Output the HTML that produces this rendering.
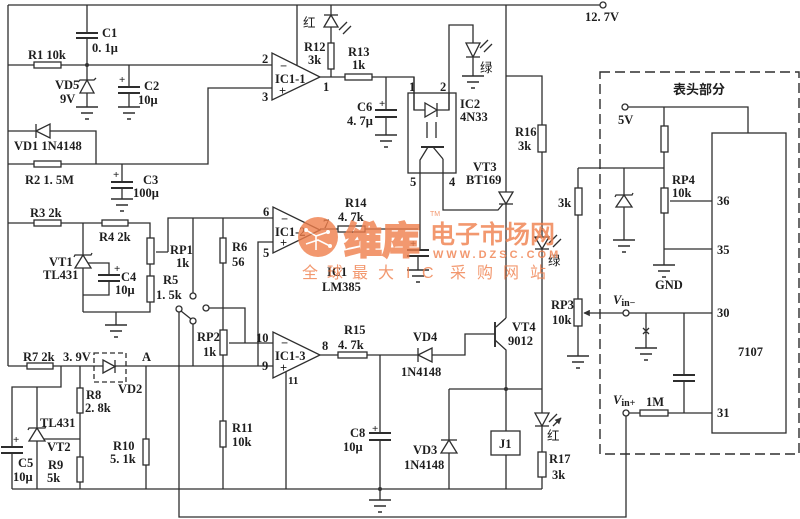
<!DOCTYPE html>
<html><head><meta charset="utf-8"><style>
html,body{margin:0;padding:0;background:#fff;}
svg{display:block;}
text{font-family:"Liberation Serif","Noto Serif CJK SC",serif;font-size:12.5px;fill:#1e1e1e;font-weight:bold;}
.c{font-family:"Liberation Sans","Noto Sans CJK SC",sans-serif;font-weight:normal;}
.s{font-size:11px;}
.w{fill:#f07f4c;font-family:"Liberation Sans","Noto Sans CJK SC",sans-serif;}
</style></head><body>
<svg width="800" height="519" viewBox="0 0 800 519" xmlns="http://www.w3.org/2000/svg">
<defs>
<marker id="ah" viewBox="0 0 10 10" refX="9" refY="5" markerWidth="5" markerHeight="5" orient="auto"><path d="M0,0 L10,5 L0,10z" fill="#333"/></marker>
</defs>
<g fill="none" stroke="#2e2e2e" stroke-width="1.3">
<path d="M8,5 H600 M8,5 V366
M87,5 V33 M87,38 V65
M8,65 H34 M61,65 H272
M87,65 V80 M87,93 V107
M129,65 V87 M129,93 V107
M272,88 H208 V164 H61 M34,164 H8
M8,131 H36 M50,131 H96 V164
M122,164 V182 M122,188 V199
M297,5 V65
M331,5 V15 M331,27 V43 M331,69 V77
M320,77 H345 M372,77 H414 V110 H425 M437,110 H449 V25 H473 V43 M473,57 V76
M386,77 V110 M386,117 V135
M428,147 L420,160 V250
M443,159 V210 H498 L503,204
M506,5 V192 M506,204 V318
M506,76 H542 V125 M542,152 V237 M542,249 V413 M542,426 V452 M542,477 V489
M495,340 L506,350 V431 M506,455 V489
M495,334 H465 V355 H432 M418,355 H367 M338,355 H320
M380,355 V433 M380,440 V500
M449,389 H542 M449,389 V440 M449,453 V489
M12,489 H542
M179,312 V517 H626 V416
M8,366 H27 M53,366 H103 M115,366 H273
M61,366 V387 H12 V447 M12,453 V489
M37,387 V428 M37,441 V489 M42,439 H80
M80,366 V388 M80,413 V457 M80,482 V489
M146,366 V439 M146,465 V489
M223,355 V421 M223,447 V489
M8,223 H34 M61,223 H102 M128,223 H150 V238 M150,264 V276 M150,302 V312 H83
M83,223 V255 M83,268 V312 M88,263 H109 V275 M109,281 V295 H83
M116,312 V325
M168,252 V218 H273
M193,218 V293
M223,218 V238 M223,263 V330
M181,311 L191,319 M193,324 V366 M209,308 H245 V343
M273,242 H258 V366
M320,229 H338 M365,229 H418 M418,256 V270
M286,372 V489
M628,107 H748 V133
M664,107 V126 M664,152 V188 M664,213 V265 M664,249 H712
M578,168 H664 M578,168 V188 M578,215 V299 M578,326 V356
M624,168 V195 M624,207 V240
M629,313 H712 M646,313 V348
M684,313 V375 M684,381 V413
M629,413 H640 M668,413 H712
M643,328 L649,334 M649,328 L643,334"/>
<path d="M427,122 V138 M436,122 V138 M433,147 L443,159 M506,318 L496,327 M168,252 H156 M245,343 H229 M273,343 H245 M712,201 H670 M623,313 H584" marker-end="url(#ah)"/>
<path d="M339,30 L347,22 M343,34 L351,26 M480,48 L488,40 M484,52 L492,44 M549,243 L557,235 M553,247 L561,239 M549,422 L557,414 M553,426 L561,418" marker-end="url(#ah)"/>
<path stroke-width="1.9" d="M421,147 H444 M495,322 V347
M76,33 H98 M76,38 H98 M118,87 H140 M118,93 H140 M111,182 H133 M111,188 H133
M375,110 H397 M375,117 H397 M407,250 H429 M407,256 H429 M98,275 H120 M98,281 H120
M1,447 H23 M1,453 H23 M369,433 H391 M369,440 H391 M673,375 H695 M673,381 H695"/>
<path stroke-width="1.6" d="
M76,107 H98 M81,113 H93 M85,119 H89
M118,107 H140 M123,113 H135 M127,119 H131
M111,199 H133 M116,205 H128 M120,211 H124
M375,135 H397 M380,141 H392 M384,147 H388
M462,76 H484 M467,82 H479 M471,88 H475
M407,270 H429 M412,276 H424 M416,282 H420
M105,325 H127 M110,331 H122 M114,337 H118
M369,500 H391 M374,506 H386 M378,512 H382
M653,265 H675 M658,271 H670 M662,277 H666
M613,240 H635 M618,246 H630 M622,252 H626
M567,356 H589 M572,362 H584 M576,368 H580
M635,348 H657 M640,354 H652 M644,360 H648"/>
<g fill="#fff">
<rect x="34" y="62" width="27" height="6"/><rect x="34" y="161" width="27" height="6"/>
<rect x="34" y="220" width="27" height="6"/><rect x="102" y="220" width="26" height="6"/>
<rect x="147" y="238" width="7" height="26"/><rect x="147" y="276" width="7" height="26"/>
<rect x="220" y="238" width="6" height="25"/><rect x="220" y="330" width="7" height="25"/>
<rect x="27" y="363" width="26" height="6"/><rect x="77" y="388" width="6" height="25"/>
<rect x="77" y="457" width="6" height="25"/><rect x="143" y="439" width="6" height="26"/>
<rect x="220" y="421" width="6" height="26"/><rect x="328" y="43" width="6" height="26"/>
<rect x="345" y="74" width="27" height="6"/><rect x="338" y="226" width="27" height="6"/>
<rect x="338" y="352" width="29" height="6"/><rect x="538" y="125" width="8" height="27"/>
<rect x="538" y="452" width="8" height="25"/><rect x="661" y="126" width="7" height="26"/>
<rect x="661" y="188" width="7" height="25"/><rect x="575" y="188" width="7" height="27"/>
<rect x="574" y="299" width="8" height="27"/><rect x="640" y="410" width="28" height="6"/>
<polygon points="87,80 80,93 94,93"/><path d="M78,82 L80,80 H94 L96,78"/>
<polygon points="36,131 50,124 50,138"/><path d="M36,124 V138"/>
<polygon points="331,15 324,27 338,27"/><path d="M324,15 H338"/>
<polygon points="425,103 425,117 437,110"/><path d="M437,103 V117"/>
<polygon points="466,43 480,43 473,57"/><path d="M466,57 H480"/>
<polygon points="499,192 513,192 506,204"/><path d="M499,204 H513"/>
<polygon points="535,237 549,237 542,249"/><path d="M535,249 H549"/>
<polygon points="535,413 549,413 542,426"/><path d="M535,426 H549"/>
<polygon points="418,355 432,348 432,362"/><path d="M418,348 V362"/>
<polygon points="449,440 441,453 457,453"/><path d="M441,440 H457"/>
<polygon points="103,360 103,373 115,366.5"/><path d="M115,360 V373"/>
<polygon points="83,255 75,268 91,268"/><path d="M74,257 L75,255 H91 L92,253"/>
<polygon points="37,428 29,441 45,441"/><path d="M28,430 L29,428 H45 L46,426"/>
<polygon points="624,195 616,207 632,207"/><path d="M615,197 L616,195 H632 L633,193"/>
<polygon points="272,53 272,100 320,77"/>
<polygon points="273,207 273,253 320,230"/>
<polygon points="273,332 273,378 320,355"/>
<rect x="491" y="431" width="29" height="24"/>
<rect x="712" y="133" width="74" height="300"/>
<circle cx="603" cy="5" r="3"/><circle cx="625" cy="107" r="3"/>
<circle cx="626" cy="313" r="3"/><circle cx="626" cy="413" r="3"/>
<circle cx="193" cy="296" r="3"/><circle cx="179" cy="309" r="3"/>
<circle cx="193" cy="321" r="3"/><circle cx="206" cy="308" r="3"/>
</g>
<rect x="408" y="93" width="48" height="80"/>
<path d="M414,77 V110 M449,93 V110"/>
<rect x="94" y="353" width="32" height="29" stroke-dasharray="5,3"/>
<rect x="600" y="72" width="199" height="382" stroke-dasharray="10,5" stroke-width="1.4"/>
</g>
<g fill="#333"><circle cx="87" cy="65" r="2"/><circle cx="380" cy="489" r="2"/><circle cx="506" cy="389" r="2"/></g>
<text x="585" y="21">12. 7V</text>
<text x="102" y="37">C1</text><text x="92" y="52">0. 1μ</text>
<text x="28" y="59">R1 10k</text>
<text x="55" y="89">VD5</text><text x="60" y="103">9V</text>
<text x="144" y="90">C2</text><text x="138" y="104">10μ</text>
<text x="14" y="150">VD1 1N4148</text>
<text x="25" y="184">R2 1. 5M</text>
<text x="143" y="184">C3</text><text x="133" y="197">100μ</text>
<text class="s" x="119" y="83">+</text><text class="s" x="113" y="178">+</text>
<text class="s" x="379" y="107">+</text><text class="s" x="410" y="247">+</text>
<text class="s" x="114" y="272">+</text><text class="s" x="13" y="443">+</text>
<text class="s" x="372" y="432">+</text>
<text x="262" y="63">2</text><text x="262" y="101">3</text>
<text x="280" y="70">−</text><text x="279" y="95">+</text>
<text x="275" y="83">IC1-1</text><text x="323" y="91">1</text>
<text class="c" x="303" y="27">红</text>
<text x="304" y="51">R12</text><text x="308" y="64">3k</text>
<text x="348" y="56">R13</text><text x="352" y="69">1k</text>
<text x="357" y="111">C6</text><text x="347" y="125">4. 7μ</text>
<text x="409" y="91">1</text><text x="440" y="91">2</text>
<text x="460" y="108">IC2</text><text x="460" y="121">4N33</text>
<text class="c" x="480" y="72">绿</text>
<text x="410" y="186">5</text><text x="449" y="186">4</text>
<text x="473" y="171">VT3</text><text x="466" y="184">BT169</text>
<text x="515" y="136">R16</text><text x="518" y="150">3k</text>
<text x="30" y="217">R3 2k</text><text x="99" y="241">R4 2k</text>
<text x="49" y="266">VT1</text><text x="43" y="279">TL431</text>
<text x="121" y="281">C4</text><text x="115" y="294">10μ</text>
<text x="170" y="254">RP1</text><text x="176" y="267">1k</text>
<text x="163" y="284">R5</text><text x="156" y="299">1. 5k</text>
<text x="232" y="251">R6</text><text x="232" y="266">56</text>
<text x="263" y="216">6</text><text x="263" y="257">5</text>
<text x="281" y="223">−</text><text x="280" y="247">+</text>
<text x="275" y="236">IC1-2</text><text x="323" y="228">7</text>
<text x="345" y="207">R14</text><text x="338" y="221">4. 7k</text>
<text x="327" y="276">IC1</text><text x="322" y="291">LM385</text>
<text x="197" y="341">RP2</text><text x="203" y="356">1k</text>
<text x="256" y="342">10</text><text x="262" y="370">9</text>
<text x="281" y="347">−</text><text x="280" y="372">+</text>
<text x="275" y="360">IC1-3</text><text x="322" y="350">8</text>
<text x="288" y="384" class="s">11</text>
<text x="344" y="334">R15</text><text x="338" y="349">4. 7k</text>
<text x="413" y="341">VD4</text><text x="401" y="376">1N4148</text>
<text x="512" y="331">VT4</text><text x="508" y="345">9012</text>
<text x="23" y="361">R7 2k</text><text x="63" y="361">3. 9V</text>
<text x="142" y="361">A</text><text x="118" y="393">VD2</text>
<text x="86" y="399">R8</text><text x="85" y="412">2. 8k</text>
<text x="40" y="427">TL431</text><text x="47" y="451">VT2</text>
<text x="18" y="467">C5</text><text x="13" y="481">10μ</text>
<text x="48" y="469">R9</text><text x="47" y="482">5k</text>
<text x="113" y="450">R10</text><text x="110" y="463">5. 1k</text>
<text x="232" y="432">R11</text><text x="232" y="446">10k</text>
<text x="350" y="437">C8</text><text x="343" y="451">10μ</text>
<text x="413" y="454">VD3</text><text x="404" y="469">1N4148</text>
<text x="499" y="448">J1</text>
<text class="c" x="547" y="440">红</text>
<text x="549" y="463">R17</text><text x="552" y="479">3k</text>
<text class="c" x="548" y="265">绿</text>
<text class="c" x="673" y="94" style="font-size:13px;font-weight:bold">表头部分</text>
<text x="618" y="124">5V</text>
<text x="558" y="207">3k</text>
<text x="672" y="184">RP4</text><text x="672" y="197">10k</text>
<text x="717" y="205">36</text><text x="717" y="254">35</text>
<text x="655" y="289">GND</text>
<text x="551" y="309">RP3</text><text x="552" y="324">10k</text>
<text x="613" y="304"><tspan font-style="italic">V</tspan><tspan font-size="10" dy="2">in−</tspan></text>
<text x="613" y="404"><tspan font-style="italic">V</tspan><tspan font-size="10" dy="2">in+</tspan></text>
<text x="717" y="317">30</text><text x="717" y="417">31</text>
<text x="738" y="356">7107</text>
<text x="646" y="406">1M</text>
<g opacity="0.8">
<circle cx="318" cy="237" r="20" fill="#f07f4c"/>
<path d="M306,230 L316,236 L328,232 M306,244 L318,240 L330,246 M316,236 V250" stroke="#fff" stroke-width="1.6" fill="none"/>
<circle cx="306" cy="230" r="2" fill="#fff"/><circle cx="330" cy="246" r="2" fill="#fff"/><circle cx="328" cy="232" r="2" fill="#fff"/>
<text class="w" x="344" y="254" stroke="#f07f4c" stroke-width="2" style="font-size:38px;font-weight:bold">维库</text>
<text class="w" x="430" y="216" style="font-size:7px;font-weight:normal">TM</text>
<text class="w" x="430" y="243" stroke="#f07f4c" stroke-width="0.8" style="font-size:25px;font-weight:normal">电子市场网</text>
<text class="w" x="433" y="258" style="font-size:11px;font-weight:bold;letter-spacing:3px">WWW.DZSC.COM</text>
<text class="w" x="302" y="278" style="font-size:16px;font-weight:normal">全</text>
<text class="w" x="327" y="278" style="font-size:16px;font-weight:normal">球</text>
<text class="w" x="352" y="278" style="font-size:16px;font-weight:normal">最</text>
<text class="w" x="378" y="278" style="font-size:16px;font-weight:normal">大</text>
<text class="w" x="406" y="278" style="font-size:16px;font-weight:normal">I</text>
<text class="w" x="422" y="278" style="font-size:16px;font-weight:normal">C</text>
<text class="w" x="450" y="278" style="font-size:16px;font-weight:normal">采</text>
<text class="w" x="477" y="278" style="font-size:16px;font-weight:normal">购</text>
<text class="w" x="503" y="278" style="font-size:16px;font-weight:normal">网</text>
<text class="w" x="530" y="278" style="font-size:16px;font-weight:normal">站</text>
</g>
</svg>
</body></html>
